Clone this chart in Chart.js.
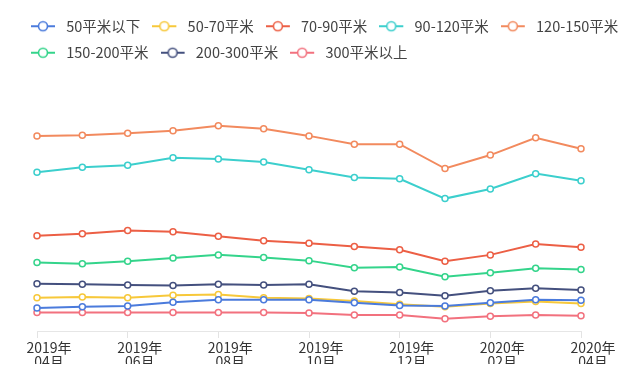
<!DOCTYPE html>
<html>
<head>
<meta charset="utf-8">
<script src="https://cdn.jsdelivr.net/npm/chart.js@4/dist/chart.umd.min.js"></script>
<style>
  html, body { margin: 0; padding: 0; background: #fff; }
  #wrap { width: 640px; height: 364px; position: relative; }
</style>
</head>
<body>
<div id="wrap"><canvas id="grafico"></canvas></div>
<script>
// meses 2019-04 .. 2020-04
const meses = ["2019年04月", "2019年05月", "2019年06月", "2019年07月", "2019年08月", "2019年09月", "2019年10月",
  "2019年11月", "2019年12月", "2020年01月", "2020年02月", "2020年03月", "2020年04月"];

const series = ["50平米以下", "50-70平米", "70-90平米", "90-120平米", "120-150平米", "150-200平米", "200-300平米", "300平米以上"];

const v50 = [3.6, 3.8, 3.9, 4.5, 4.9, 4.9, 4.9, 4.4, 4.0, 3.9, 4.4, 4.9, 4.8];
const v50_70 = [5.2, 5.3, 5.2, 5.6, 5.7, 5.2, 5.1, 4.7, 4.2, 3.8, 4.3, 4.6, 4.3];
const v70_90 = [14.9, 15.2, 15.7, 15.5, 14.8, 14.1, 13.7, 13.2, 12.7, 10.9, 11.9, 13.6, 13.1];
const v90_120 = [24.8, 25.6, 25.9, 27.1, 26.9, 26.4, 25.2, 24.0, 23.8, 20.7, 22.2, 24.6, 23.5];
const v120_150 = [30.5, 30.6, 30.9, 31.3, 32.1, 31.6, 30.5, 29.2, 29.2, 25.4, 27.5, 30.2, 28.5];
const v150_200 = [10.7, 10.5, 10.9, 11.4, 11.9, 11.5, 11.0, 9.9, 10.0, 8.5, 9.1, 9.8, 9.6];
const v200_300 = [7.4, 7.3, 7.2, 7.1, 7.3, 7.2, 7.3, 6.2, 6.0, 5.5, 6.3, 6.7, 6.4];
const v300 = [2.9, 2.9, 2.9, 2.9, 2.9, 2.9, 2.8, 2.5, 2.5, 1.9, 2.3, 2.5, 2.4];

const valores = [v50, v50_70, v70_90, v90_120, v120_150, v150_200, v200_300, v300];
const colores = ["#4b7bdc", "#f7c83a", "#ec5f45", "#3ccfcd", "#f28a5e", "#34d48b", "#44507e", "#f2717e"];

const fuente = "'Noto Sans CJK SC', 'Noto Sans', sans-serif";

// icono de leyenda: linea con circulo hueco
function iconoLeyenda(color) {
  const c = document.createElement("canvas");
  c.width = 28;
  c.height = 14;
  const g = c.getContext("2d");
  g.strokeStyle = color;
  g.lineWidth = 2;
  g.beginPath();
  g.moveTo(0, 7);
  g.lineTo(24, 7);
  g.stroke();
  g.beginPath();
  g.arc(12, 7, 4.5, 0, Math.PI * 2);
  g.fillStyle = "#fff";
  g.fill();
  g.lineWidth = 1.6;
  g.stroke();
  return c;
}
const iconos = colores.map(iconoLeyenda);

const datasets = series.map((nombre, i) => ({
  label: nombre,
  data: valores[i],
  borderColor: colores[i],
  backgroundColor: colores[i],
  borderWidth: 2,
  tension: 0,
  pointRadius: 3,
  pointBorderWidth: 1.5,
  pointBackgroundColor: "#fff",
  pointBorderColor: colores[i]
}));

new Chart(document.getElementById("grafico"), {
  type: "line",
  data: { labels: meses, datasets },
  options: {
    responsive: true,
    maintainAspectRatio: false,
    animation: false,
    layout: { padding: { left: 19, right: 0, top: 7, bottom: 0 } },
    plugins: {
      tooltip: { enabled: false },
      legend: {
        position: "top",
        align: "start",
        labels: {
          usePointStyle: true,
          pointStyleWidth: 28,
          padding: 12,
          color: "#444",
          font: { family: fuente, size: 14.5 },
          generateLabels: (chart) => {
            const items = Chart.defaults.plugins.legend.labels.generateLabels(chart);
            items.forEach((it, i) => { it.pointStyle = iconos[i]; });
            return items;
          }
        }
      }
    },
    scales: {
      x: {
        offset: false,
        grid: {
          drawOnChartArea: false,
          drawTicks: true,
          tickLength: 7,
          tickColor: (ctx) => ctx.index % 2 === 0 ? "#e3e3e3" : "rgba(0,0,0,0)"
        },
        border: { color: "#e6e6e6" },
        ticks: {
          autoSkip: false,
          maxRotation: 0,
          labelOffset: 12,
          padding: 2,
          color: "#333",
          font: { family: fuente, size: 14, lineHeight: 1.05 },
          callback: function (val, i) {
            if (i % 2 !== 0) return "";
            const m = meses[i];
            return [m.slice(0, 5), m.slice(5)];
          }
        },
        afterFit: (s) => { s.height = 33; }
      },
      y: {
        min: 0,
        max: 40.8,
        display: true,
        grid: { display: false },
        border: { display: false },
        ticks: { display: false },
        afterFit: (s) => { s.width = 18; }
      },
      yr: {
        type: "linear",
        position: "right",
        display: true,
        grid: { display: false },
        border: { display: false },
        ticks: { display: false },
        afterFit: (s) => { s.width = 59; }
      }
    }
  }
});
</script>
</body>
</html>
